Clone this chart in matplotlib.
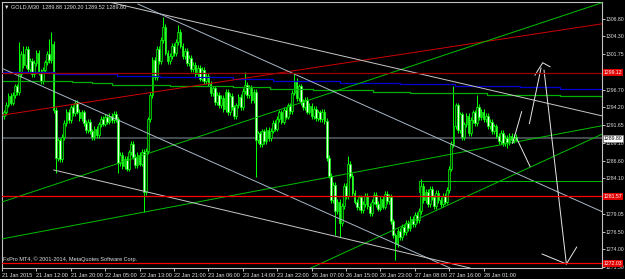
import matplotlib.pyplot as plt
import numpy as np

plt.rcParams['font.family'] = ['Liberation Sans', 'DejaVu Sans']

# M30 closes, one per bar
closes = [
    1293.5, 1294.6, 1295.8, 1294.9, 1296.0, 1297.2, 1296.4, 1299.0,
    1301.8, 1300.2, 1302.5, 1299.6, 1300.8,
    1298.9, 1300.5, 1302.0, 1299.2, 1298.0, 1299.5,
    1300.6, 1301.8, 1300.9, 1303.2,
    1293.8,
    1287.0, 1289.5, 1286.8, 1290.0,
    1292.0, 1293.6, 1292.4, 1294.2, 1293.4, 1294.8, 1293.6, 1292.7, 1293.5, 1292.0,
    1291.0, 1292.1, 1290.8, 1290.0, 1291.2, 1290.3, 1291.8,
    1292.6, 1291.9, 1292.8, 1292.2, 1293.0, 1292.4, 1293.3, 1292.5,
    1286.3,
    1287.5, 1285.8, 1286.9, 1285.5, 1287.8, 1289.0, 1287.2, 1286.0, 1287.4, 1286.2, 1287.9,
    1282.2,
    1288.0, 1292.5, 1296.0, 1301.0, 1298.5, 1302.5, 1300.8, 1303.8, 1305.6,
    1302.0, 1300.8, 1301.5, 1302.9, 1301.9, 1303.5, 1305.0, 1303.0,
    1301.5, 1302.2, 1300.5, 1301.3, 1299.6, 1300.2, 1298.9, 1299.8,
    1298.3, 1299.5, 1297.9, 1298.7, 1297.6,
    1296.2, 1296.9, 1295.0, 1296.0, 1294.5,
    1295.6, 1294.0, 1296.4, 1293.5, 1295.8, 1294.2, 1293.0, 1294.5, 1295.7, 1294.3, 1296.5, 1297.4,
    1296.0, 1297.0, 1295.2, 1296.4,
    1289.6,
    1290.5, 1289.0, 1290.8, 1289.4, 1291.0, 1289.8, 1290.9,
    1292.0, 1291.2, 1292.6, 1293.5, 1292.2, 1293.8, 1292.9, 1294.5, 1293.7,
    1296.3, 1298.0, 1295.5, 1297.2,
    1295.0, 1294.2, 1295.3, 1293.6, 1294.4, 1293.0, 1294.0, 1292.7, 1293.5,
    1292.6, 1293.6, 1292.3,
    1287.0,
    1284.5, 1281.0, 1283.2, 1279.5, 1280.8, 1277.8, 1280.2,
    1283.0, 1281.6, 1286.2, 1284.5, 1282.0, 1280.8,
    1280.0, 1281.4, 1279.6, 1280.5, 1281.6, 1280.2, 1279.2, 1280.8,
    1281.8, 1280.5, 1279.8, 1281.2, 1280.1, 1281.9, 1280.9, 1281.5,
    1278.0, 1276.0, 1274.8,
    1276.6, 1275.8, 1277.2, 1276.5, 1277.8, 1277.0, 1278.3, 1277.6, 1278.9, 1278.2, 1279.5,
    1283.0, 1281.0, 1282.2, 1280.5, 1282.6, 1281.4, 1280.2, 1282.0, 1281.0, 1280.4, 1281.6, 1280.8, 1282.5,
    1285.5, 1289.0, 1291.5, 1294.5,
    1291.0, 1293.2, 1290.0, 1291.8, 1293.0, 1290.6, 1292.4, 1293.5, 1292.0, 1294.3, 1292.8, 1293.6,
    1292.5, 1293.0, 1291.6, 1292.2, 1290.8, 1291.5, 1290.2, 1289.4, 1290.6, 1289.1, 1289.9, 1289.3,
    1290.1, 1289.5, 1290.0, 1289.8,
]
first_open = 1293.0
wick = 0.4
spike_high = {7: 1303.5, 9: 1303.0, 21: 1304.0, 22: 1305.0, 74: 1307.0, 81: 1305.9,
              112: 1299.3, 135: 1299.1, 160: 1287.3, 177: 1282.3, 194: 1284.0,
              209: 1297.3, 220: 1296.0}
spike_low = {24: 1284.9, 53: 1284.9, 65: 1279.3, 117: 1284.3, 154: 1276.0,
             156: 1275.8, 182: 1272.5, 234: 1288.4}

# x tick labels (every 16 bars)
time_labels = ["21 Jan 2015", "21 Jan 12:00", "21 Jan 20:00", "22 Jan 05:00", "22 Jan 13:00",
               "22 Jan 21:00", "23 Jan 06:00", "23 Jan 14:00", "23 Jan 22:00", "26 Jan 07:00",
               "26 Jan 15:00", "26 Jan 23:00", "27 Jan 08:00", "27 Jan 16:00", "28 Jan 01:00"]
price_ticks = [1271.50, 1274.00, 1276.50, 1279.05, 1281.55, 1284.10, 1286.60, 1289.10,
               1291.65, 1294.20, 1296.70, 1299.20, 1301.75, 1304.30, 1306.80]
hidden_ticks = [1281.55, 1299.20]  # covered by the red price boxes in the terminal

# stepped moving averages (bar, price)
blue_ma_x = [0, 24.7, 53.5, 73.5, 80.5, 107.4, 126, 157.2, 185.1, 210.7, 240.9, 259.5, 279.1]
blue_ma_y = [1299.2, 1298.95, 1298.71, 1298.57, 1298.48, 1298.28, 1297.96, 1297.74,
             1297.53, 1297.32, 1297.1, 1296.89, 1296.89]
green_ma_x = [0, 10.7, 32.6, 41.9, 51.2, 78.1, 107.4, 124.7, 144.7, 172.6, 189.8, 225.6, 259.5, 279.1]
green_ma_y = [1298.0, 1297.92, 1297.77, 1297.67, 1297.39, 1297.29, 1297.06, 1296.86,
              1296.68, 1296.44, 1296.21, 1295.97, 1295.83, 1295.73]

# trend lines: ((x0, p0), (x1, p1), colour)
trend_lines = [
    ((0, 1293.1), (279.1, 1306.1), '#d00000'),
    ((0, 1280.75), (279.1, 1309.1), '#00c000'),
    ((0, 1275.5), (279.1, 1291.6), '#00c000'),
    ((143.7, 1271.36), (279.1, 1290.4), '#00c000'),
    ((48.2, 1309.3), (279.1, 1293.0), '#c8c8c8'),
    ((63.3, 1308.9), (279.1, 1279.37), '#a8b8c8'),
    ((0, 1299.76), (208.4, 1271.36), '#a8b8c8'),
    ((24.1, 1285.3), (217.7, 1271.36), '#c8c8c8'),
    ((194, 1283.73), (279.1, 1283.73), '#00c000'),
    ((194, 1283.73), (194, 1282.2), '#00c000'),
]
# forecast arrows drawn by hand (white polylines)
arrow_paths = [
    ([237.5, 241.7], [1289.1, 1293.6]),
    ([239.4, 245.6], [1289.8, 1285.8]),
    ([245.3, 250.7], [1291.9, 1299.8]),
    ([247.9, 251.5, 254.9], [1298.8, 1300.56, 1299.99]),
    ([252.1, 262.5, 267.3], [1299.5, 1271.93, 1274.34]),
    ([251.2, 262.5], [1273.35, 1271.93]),
]
hlines = [(1299.12, '#a00000'), (1281.57, '#ff0000'), (1272.03, '#ff0000')]
bid = 1289.80

fs = 4.0
yfs = 3.7
fig = plt.figure(figsize=(6.25, 2.79), dpi=100, facecolor='black')
ax = fig.add_axes([2 / 625, 11 / 279, 600 / 625, 266 / 279], facecolor='black')

c = np.array(closes)
o = np.concatenate([[first_open], c[:-1]])
n = len(c)
hi = np.maximum(o, c) + wick
lo = np.minimum(o, c) - wick
for k, v in spike_high.items():
    hi[k] = max(hi[k], v)
for k, v in spike_low.items():
    lo[k] = min(lo[k], v)
x = np.arange(n) + 1

ax.vlines(x, lo, hi, color='#00ff00', lw=0.75, zorder=2)
bull = c >= o
body = np.maximum(np.abs(c - o), 0.1)
ax.bar(x, body, bottom=np.minimum(o, c), width=0.8,
       color=np.where(bull, '#003300', '#e8ffe8'), edgecolor='#00ff00', lw=0.5, zorder=2)

ax.plot(blue_ma_x, blue_ma_y, color='#0000d0', lw=0.9, drawstyle='steps-post', zorder=2.5)
ax.plot(green_ma_x, green_ma_y, color='#00b000', lw=0.9, drawstyle='steps-post', zorder=2.5)

for (x0, p0), (x1, p1), col in trend_lines:
    ax.plot([x0, x1], [p0, p1], color=col, lw=0.7, zorder=3)
for px, py in arrow_paths:
    ax.plot(px, py, color='#e8e8e8', lw=0.7, zorder=3)

ax.axhline(bid, color='#505860', lw=1.2, zorder=1.5)
for p, col in hlines:
    ax.axhline(p, color=col, lw=0.9, zorder=3)

ax.set_xlim(0, 279.07)
ax.set_ylim(1271.36, 1309.2)
ax.set_xticks(np.arange(len(time_labels)) * 16)
ax.set_xticklabels(time_labels, ha='left')
ax.yaxis.tick_right()
ax.set_yticks(price_ticks)
ax.set_yticklabels(['' if p in hidden_ticks else '%.2f' % p for p in price_ticks])
ax.tick_params(axis='x', colors='#e0e0e0', labelsize=fs, length=2.5, width=0.6, pad=1.2)
ax.tick_params(axis='y', colors='#e0e0e0', labelsize=yfs, length=2, width=0.6, pad=0.8)
for s in ax.spines.values():
    s.set_color('#c0c0c0')
    s.set_linewidth(0.8)

trans = ax.get_yaxis_transform()
for p in [1299.12, 1281.57, 1272.03]:
    ax.text(1.003, p, '%.2f' % p, transform=trans, fontsize=yfs, color='white', va='center',
            ha='left', clip_on=False, zorder=5,
            bbox=dict(boxstyle='square,pad=0.2', fc='#e00000', ec='none'))
ax.text(1.003, bid, '%.2f' % bid, transform=trans, fontsize=yfs, color='black', va='center',
        ha='left', clip_on=False, zorder=5,
        bbox=dict(boxstyle='square,pad=0.2', fc='white', ec='#808080', lw=0.4))

fig.text(4 / 625, 1 - 7 / 279, '\u25bc GOLD,M30  1289.88 1290.20 1289.52 1289.80',
         color='#e0e0e0', fontsize=fs, va='center', ha='left')
ax.text(0.002, 1272.2, 'FxPro MT4, \u00a9 2001-2014, MetaQuotes Software Corp.',
        transform=ax.get_yaxis_transform(), color='#e0e0e0', fontsize=fs,
        va='bottom', ha='left', zorder=6)

fig.savefig('out.png', dpi=100, facecolor='black')
